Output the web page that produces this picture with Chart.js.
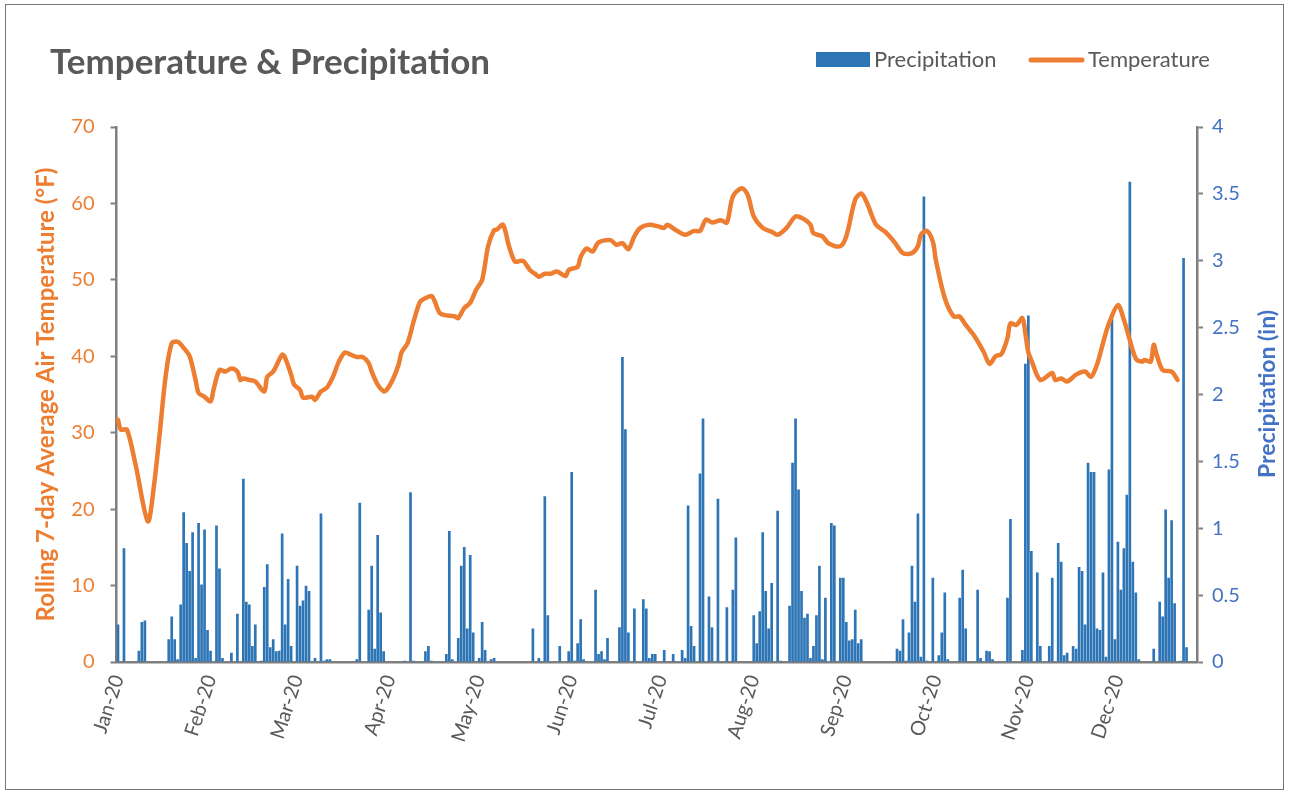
<!DOCTYPE html>
<html lang="en">
  <head>
    <meta charset="UTF-8" />
    <title>Temperature &amp; Precipitation</title>
    <style>
      * {
        margin: 0;
        padding: 0;
        box-sizing: border-box;
      }
      body {
        width: 1289px;
        height: 795px;
        background: #fff;
        overflow: hidden;
      }
      canvas {
        display: block;
      }
    </style>
  </head>
  <body>
    <canvas id="myChart" width="1289" height="795"></canvas>
    <script src="https://cdn.jsdelivr.net/npm/chart.js"></script>
    <script>
      // month tick labels on the x axis
      const monthLabels = ["Jan-20", "Feb-20", "Mar-20", "Apr-20", "May-20", "Jun-20",
        "Jul-20", "Aug-20", "Sep-20", "Oct-20", "Nov-20", "Dec-20"];
      const numDays = 362; // Jan 1 2020 .. Dec 27 2020

      // rolling 7-day temperature (°F), day index from Jan 1
      const tempDay = [0, 1, 3, 6, 10, 12, 14, 16, 18, 20, 22, 24, 26, 27, 29, 31, 32, 34, 36, 38,
        40, 41, 42, 44, 46, 49, 50, 52, 55, 56, 58, 59, 61, 62, 65, 66, 68, 70, 72, 74,
        76, 78, 80, 82, 84, 85, 87, 89, 90, 92, 94, 95, 97, 99, 101, 102, 105, 106, 108, 113,
        114, 116, 118, 120, 122, 124, 126, 127, 129, 131, 133, 135, 136, 138, 140, 141, 143, 145, 147, 150,
        151, 154, 155, 157, 159, 161, 165, 167, 169, 171, 173, 175, 178, 181, 183, 184, 187, 190, 193, 195,
        197, 199, 202, 204, 206, 209, 211, 213, 216, 219, 221, 224, 227, 230, 232, 233, 236, 238, 242, 244,
        247, 249, 251, 254, 257, 260, 263, 266, 268, 269, 271, 273, 274, 277, 280, 282, 284, 287, 290, 292,
        294, 296, 298, 299, 301, 303, 304, 305, 306, 309, 313, 314, 316, 318, 321, 324, 326, 328, 330, 332,
        335, 337, 339, 341, 343, 344, 346, 347, 348, 350, 353, 355];
      const tempF = [31.7, 30.4, 30.4, 25.6, 18.4, 22.9, 30, 37.5, 41.7, 41.9, 41.1, 40, 36.9, 35.2, 34.7, 34.1, 35.6, 38.2, 38.0, 38.4,
        38, 36.9, 37.1, 36.9, 36.7, 35.4, 37.3, 38, 40.2, 39.8, 37.6, 36.3, 35.6, 34.6, 34.7, 34.3, 35.4, 35.9, 37.3, 39.3,
        40.5, 40.2, 39.9, 39.9, 39.1, 38, 36.3, 35.4, 35.6, 36.9, 38.9, 40.5, 41.7, 44.5, 47, 47.4, 47.9, 47.3, 45.6, 45.2,
        45, 46.3, 47, 48.7, 50, 54.4, 56.5, 56.6, 57.2, 54.4, 52.4, 52.5, 52.4, 51.3, 50.7, 50.4, 50.8, 50.8, 51.1, 50.5,
        51.3, 51.7, 53, 54.1, 53.7, 54.9, 55.2, 54.6, 54.8, 54, 55.7, 56.8, 57.2, 57, 56.8, 57.2, 56.5, 55.9, 56.4, 56.4,
        57.9, 57.5, 57.8, 57.5, 60.9, 62, 61.1, 58.3, 56.8, 56.3, 55.9, 56.8, 58.3, 57.9, 57.2, 56.1, 55.7, 54.8, 54.4, 55.7,
        60.5, 61.3, 60, 57.2, 56.3, 55, 53.5, 53.5, 54.4, 55.9, 56.4, 55, 52.6, 47.6, 45.2, 45.2, 44.1, 42.6, 40.6, 39,
        40, 40.3, 42.4, 44.3, 44.1, 45, 43, 40.5, 39.5, 36.9, 37.8, 36.9, 37.1, 36.7, 37.6, 38, 37.3, 38.9, 41.7, 44.3,
        46.7, 44.8, 42.1, 39.7, 39.3, 39.5, 39.3, 41.5, 40.2, 38.2, 38, 36.9];

      // daily precipitation (in), only days with rain
      const precipDay = [0, 2, 7, 8, 9, 17, 18, 19, 20, 21, 22, 23, 24, 25, 26, 27, 28, 29, 30, 31,
        33, 34, 35, 38, 40, 42, 43, 44, 45, 46, 48, 49, 50, 51, 52, 53, 54, 55, 56, 57,
        58, 60, 61, 62, 63, 64, 66, 68, 69, 70, 71, 80, 81, 84, 85, 86, 87, 88, 89, 96,
        98, 99, 103, 104, 105, 110, 111, 112, 114, 115, 116, 117, 118, 119, 121, 122, 123, 125, 126, 139,
        141, 143, 144, 148, 151, 152, 153, 154, 155, 156, 160, 161, 162, 163, 164, 168, 169, 170, 171, 173,
        176, 177, 178, 179, 180, 183, 186, 189, 190, 191, 192, 193, 195, 196, 198, 199, 201, 204, 206, 207,
        213, 214, 215, 216, 217, 218, 219, 221, 222, 225, 226, 227, 228, 229, 230, 231, 232, 233, 234, 235,
        236, 237, 239, 240, 242, 243, 244, 245, 246, 247, 248, 249, 261, 262, 263, 264, 265, 266, 267, 268,
        269, 270, 271, 273, 275, 276, 277, 278, 282, 283, 284, 288, 289, 291, 292, 293, 298, 299, 303, 304,
        305, 306, 308, 309, 312, 313, 315, 316, 317, 318, 320, 321, 322, 323, 324, 325, 326, 327, 328, 329,
        330, 331, 332, 333, 334, 335, 336, 337, 338, 339, 340, 341, 342, 347, 349, 350, 351, 352, 353, 354,
        356, 357, 358];
      const precipIn = [0.28, 0.85, 0.085, 0.30, 0.31, 0.17, 0.34, 0.17, 0.02, 0.43, 1.12, 0.89, 0.68, 0.97, 0.03, 1.04, 0.58, 0.99, 0.24, 0.085,
        1.02, 0.70, 0.03, 0.07, 0.36, 1.37, 0.45, 0.43, 0.12, 0.28, 0.01, 0.56, 0.73, 0.11, 0.17, 0.08, 0.085, 0.96, 0.28, 0.62,
        0.12, 0.72, 0.42, 0.46, 0.57, 0.53, 0.03, 1.11, 0.01, 0.02, 0.02, 0.02, 1.19, 0.39, 0.72, 0.1, 0.95, 0.37, 0.08, 0.01,
        1.27, 0.01, 0.08, 0.12, 0.01, 0.06, 0.98, 0.02, 0.18, 0.72, 0.86, 0.25, 0.80, 0.22, 0.03, 0.30, 0.09, 0.02, 0.03, 0.25,
        0.03, 1.24, 0.35, 0.12, 0.08, 1.42, 0.01, 0.14, 0.32, 0.02, 0.54, 0.06, 0.08, 0.02, 0.18, 0.26, 2.28, 1.74, 0.22, 0.40,
        0.47, 0.40, 0.03, 0.06, 0.06, 0.09, 0.06, 0.09, 0.03, 1.17, 0.27, 0.12, 1.41, 1.82, 0.49, 0.26, 1.22, 0.41, 0.54, 0.93,
        0.35, 0.14, 0.38, 0.97, 0.53, 0.25, 0.59, 1.13, 0.01, 0.42, 1.49, 1.82, 1.29, 0.53, 0.33, 0.36, 0.03, 0.12, 0.35, 0.72,
        0.02, 0.48, 1.04, 1.02, 0.63, 0.63, 0.30, 0.16, 0.17, 0.39, 0.14, 0.17, 0.1, 0.085, 0.32, 0.01, 0.22, 0.72, 0.45, 1.11,
        0.04, 3.48, 0.01, 0.63, 0.05, 0.22, 0.52, 0.02, 0.48, 0.69, 0.25, 0.54, 0.03, 0.085, 0.08, 0.02, 0.48, 1.07, 0.09, 2.23,
        2.59, 0.83, 0.67, 0.12, 0.12, 0.63, 0.89, 0.75, 0.05, 0.07, 0.12, 0.1, 0.71, 0.68, 0.28, 1.49, 1.42, 1.42, 0.25, 0.24,
        0.67, 0.04, 1.44, 2.57, 0.17, 0.90, 0.54, 0.85, 1.25, 3.59, 0.75, 0.52, 0.02, 0.1, 0.45, 0.34, 1.14, 0.63, 1.06, 0.44,
        0.01, 3.02, 0.11];

      const textGray = "#595959";
      const axisGray = "#7F7F7F";
      const orange = "#ED7D31";
      const barBlue = "#2E75B6";
      const axisBlue = "#4472C4";
      const fontFamily = "Lato, 'Open Sans', sans-serif";

      const days = [];
      for (let i = 0; i < numDays; i++) {
        const d = new Date(2020, 0, 1 + i);
        days.push(d.getFullYear() + "-" + (d.getMonth() + 1) + "-" + d.getDate());
      }
      function monthStart(i) {
        if (i === undefined || i >= numDays) return null;
        const d = new Date(2020, 0, 1 + i);
        return d.getDate() === 1 ? monthLabels[d.getMonth()] : null;
      }

      const precip = new Array(numDays).fill(0);
      precipDay.forEach((d, i) => {
        precip[d] = precipIn[i];
      });
      const tempData = tempDay.map((d, i) => ({ x: days[d], y: tempF[i] }));

      // title, legend, frame and right axis title (Excel style)
      const chartDecor = {
        id: "chartDecor",
        beforeDraw(chart) {
          const c = chart.ctx;
          c.save();
          c.fillStyle = "#fff";
          c.fillRect(0, 0, chart.width, chart.height);
          c.strokeStyle = "#767676";
          c.lineWidth = 1;
          c.strokeRect(5.5, 4.5, 1278, 785);
          c.restore();
        },
        afterDraw(chart) {
          const c = chart.ctx;
          c.save();
          c.fillStyle = textGray;
          c.textBaseline = "middle";
          c.font = "bold 35px " + fontFamily;
          c.fillText("Temperature & Precipitation", 50, 63);

          // legend
          c.fillStyle = barBlue;
          c.fillRect(816, 52, 54, 15);
          c.fillStyle = textGray;
          c.font = "22px " + fontFamily;
          c.fillText("Precipitation", 874, 60);
          c.strokeStyle = orange;
          c.lineWidth = 5;
          c.lineCap = "round";
          c.beginPath();
          c.moveTo(1031, 60);
          c.lineTo(1082, 60);
          c.stroke();
          c.fillText("Temperature", 1088, 60);

          // right axis title reads bottom to top
          c.translate(1268, 394);
          c.rotate(-Math.PI / 2);
          c.textAlign = "center";
          c.fillStyle = axisBlue;
          c.font = "bold 23px " + fontFamily;
          c.fillText("Precipitation (in)", 0, 0);
          c.restore();
        },
      };

      const ctx = document.getElementById("myChart").getContext("2d");
      const miGrafico = new Chart(ctx, {
        type: "bar",
        data: {
          labels: days,
          datasets: [
            {
              type: "line",
              label: "Temperature",
              data: tempData,
              yAxisID: "yTemp",
              borderColor: orange,
              backgroundColor: orange,
              borderWidth: 4.5,
              pointRadius: 0,
              tension: 0.3,
              borderCapStyle: "round",
              borderJoinStyle: "round",
              order: 0,
            },
            {
              label: "Precipitation",
              data: precip,
              yAxisID: "yPrecip",
              backgroundColor: barBlue,
              barPercentage: 0.9,
              categoryPercentage: 1,
              order: 1,
            },
          ],
        },
        options: {
          responsive: false,
          animation: false,
          layout: { padding: { top: 127, left: 0, right: 0, bottom: 0 } },
          plugins: {
            legend: { display: false },
            tooltip: { enabled: false },
          },
          scales: {
            x: {
              type: "category",
              offset: true,
              grid: {
                offset: true,
                drawOnChartArea: false,
                tickLength: 7,
                tickWidth: 2,
                tickColor: (c) => (monthStart(c.index) ? axisGray : "rgba(0,0,0,0)"),
              },
              border: { color: axisGray, width: 2.5 },
              ticks: {
                autoSkip: false,
                minRotation: 72,
                maxRotation: 72,
                padding: 3,
                color: textGray,
                font: { family: fontFamily, size: 20 },
                callback: function (value, index) {
                  return monthStart(index);
                },
              },
              afterFit(scale) {
                scale.height = 133;
              },
            },
            yTemp: {
              position: "left",
              min: 0,
              max: 70,
              ticks: {
                stepSize: 10,
                color: orange,
                padding: 16,
                font: { family: fontFamily, size: 20 },
              },
              grid: {
                drawOnChartArea: false,
                tickLength: 6,
                tickWidth: 2,
                tickColor: axisGray,
              },
              border: { color: axisGray, width: 2.5 },
              title: {
                display: true,
                text: "Rolling 7-day Average Air Temperature (°F)",
                color: orange,
                font: { family: fontFamily, size: 24, weight: "bold" },
                padding: { top: 32, bottom: 0 },
              },
              afterFit(scale) {
                scale.width = 116.5;
              },
            },
            yPrecip: {
              position: "right",
              min: 0,
              max: 4,
              ticks: {
                stepSize: 0.5,
                color: axisBlue,
                padding: 9,
                font: { family: fontFamily, size: 20 },
                callback: (v) => String(Math.round(v * 10) / 10),
              },
              grid: {
                drawOnChartArea: false,
                tickLength: 6,
                tickWidth: 2,
                tickColor: axisGray,
              },
              border: { color: axisGray, width: 2.5 },
              afterFit(scale) {
                scale.width = 92;
              },
            },
          },
        },
        plugins: [chartDecor],
      });
    </script>
  </body>
</html>
